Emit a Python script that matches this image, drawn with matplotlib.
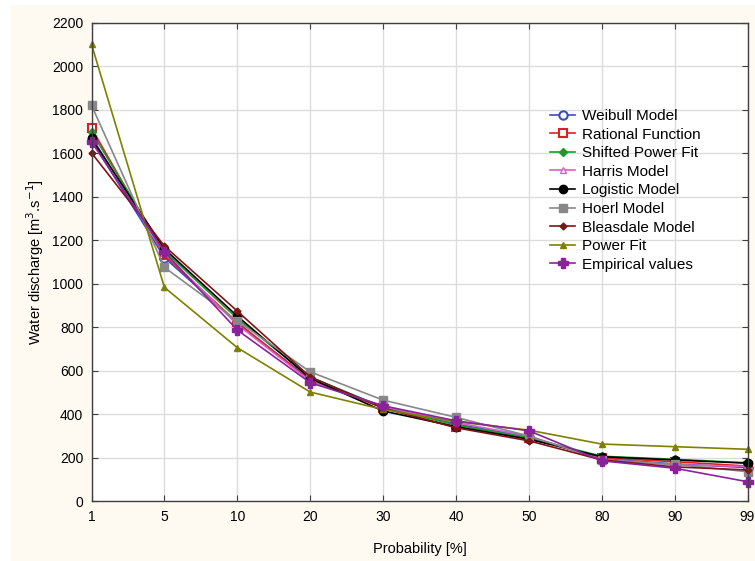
import matplotlib
matplotlib.use("Agg")
import matplotlib.pyplot as plt
from matplotlib.patches import Rectangle

categories = ["1", "5", "10", "20", "30", "40", "50", "80", "90", "99"]

weibull    = [1660, 1120, 820, 560, 435, 355, 295, 195, 172, 155]
rational   = [1715, 1130, 822, 555, 430, 340, 290, 200, 182, 162]
shifted    = [1697, 1150, 840, 570, 433, 350, 292, 207, 193, 177]
harris     = [1675, 1140, 812, 552, 436, 362, 300, 192, 168, 160]
logistic   = [1668, 1160, 851, 565, 415, 343, 285, 205, 190, 175]
hoerl      = [1820, 1075, 829, 595, 465, 386, 300, 190, 170, 136]
bleasdale  = [1601, 1173, 874, 572, 428, 338, 278, 190, 158, 144]
power_fit  = [2100, 983, 706, 502, 422, 366, 327, 263, 251, 239]
empirical  = [1652, 1146, 787, 545, 439, 370, 324, 186, 152, 90]

series = [
    ("Weibull Model", weibull, dict(color="#3C4FB4", marker="o", mfc="white", ms=6, mew=1.5)),
    ("Rational Function", rational, dict(color="#E02020", marker="s", mfc="white", ms=6, mew=1.5)),
    ("Shifted Power Fit", shifted, dict(color="#1C9A2C", marker="D", ms=4)),
    ("Harris Model", harris, dict(color="#D860C8", marker="^", mfc="white", ms=5, mew=1.0)),
    ("Logistic Model", logistic, dict(color="#000000", marker="o", ms=6)),
    ("Hoerl Model", hoerl, dict(color="#888888", marker="s", ms=6)),
    ("Bleasdale Model", bleasdale, dict(color="#7F1414", marker="D", ms=3.5)),
    ("Power Fit", power_fit, dict(color="#808000", marker="^", ms=5)),
    ("Empirical values", empirical, dict(color="#8B229C", marker="P", ms=7)),
]

plt.rcParams['font.family'] = ['Liberation Sans', 'DejaVu Sans']

fig = plt.figure(figsize=(7.55, 5.61), dpi=100, facecolor="white")
fig.patches.append(Rectangle((11/755, 0), 1 - 11/755, 1 - 5/561,
                             transform=fig.transFigure, facecolor="#FEFAF2",
                             edgecolor="none", zorder=-10))
ax = fig.add_axes([91.5/755, 1 - 501.3/561, (747.5 - 91.5)/755, (501.3 - 22.5)/561])
ax.set_facecolor("white")

x = list(range(len(categories)))
for name, vals, st in series:
    ax.plot(x, vals, label=name, lw=1.2, clip_on=False, **st)

ax.set_xlim(0, len(categories) - 1)
ax.set_ylim(0, 2200)
ax.set_xticks(x)
ax.set_xticklabels(categories)
ax.set_yticks(range(0, 2201, 200))
ax.grid(True, color="#DCDCDC", lw=1.0)
ax.set_axisbelow(True)
ax.tick_params(direction="in", length=4, top=True, right=True, labelsize=10,
               color="#404040", pad=6)
for s in ax.spines.values():
    s.set_color("#404040")
    s.set_linewidth(1.0)

ax.set_xlabel("Probability [%]", fontsize=10.5, labelpad=13)
ax.set_ylabel(r"Water discharge [m$^3$.s$^{-1}$]", fontsize=10.5, labelpad=4)

leg = ax.legend(loc="upper left", bbox_to_anchor=(0.69, 0.832), frameon=False,
                fontsize=11, handlelength=1.64, labelspacing=0.30, borderaxespad=0,
                handletextpad=0.46)

fig.savefig("out.png", dpi=100, facecolor=fig.get_facecolor())
